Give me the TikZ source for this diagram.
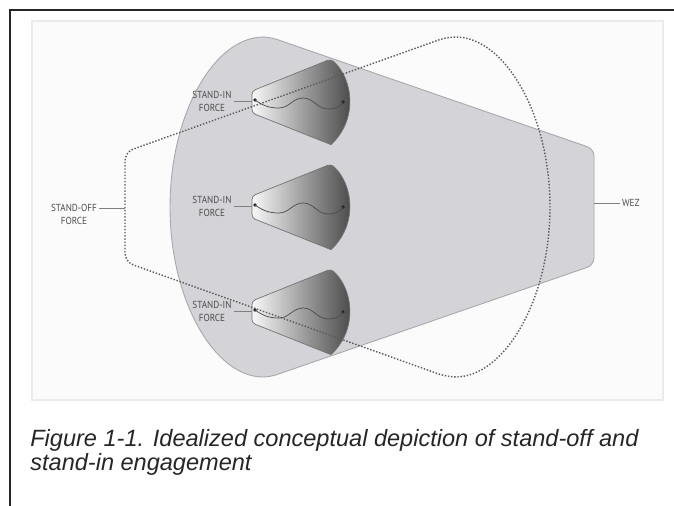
\documentclass[tikz,border=0pt]{standalone}
\usepackage{fontspec}
\setmainfont{Liberation Sans}
\newfontfamily\tagfont[FakeStretch=0.9]{PT Sans}
\definecolor{wezfill}{RGB}{212,212,216}
\definecolor{wezline}{RGB}{168,168,172}
\tikzset{
  frame/.style={draw=black!85,line width=1.3pt},
  panel/.style={draw=black!8,fill=black!1.5,line width=0.6pt},
  wez/.style={fill=wezfill,draw=wezline,line width=0.5pt},
  fan/.style={left color=black!3,right color=black!72,draw=black!55,line width=0.4pt},
  wave/.style={draw=black!70,line width=0.4pt},
  dot/.style={circle,fill=black!85,inner sep=0pt,minimum size=2.2pt},
  standoff/.style={draw=black!65,densely dotted,line width=0.8pt},
  tag/.style={font=\tagfont\fontsize{5.8}{7.4}\selectfont,text=black!70,inner sep=1pt},
  leader/.style={draw=black!50,line width=0.4pt},
  caption/.style={anchor=north west,inner sep=0pt,align=left,
    font=\fontsize{13.4}{13.6}\selectfont\itshape,text=black!85}
}
\begin{document}
\begin{tikzpicture}[x=0.02cm,y=-0.02cm]
  \useasboundingbox (0,0) rectangle (674,506);
  \draw[frame] (674,10) -- (10,10) -- (10,506);
  \draw[panel] (32,21) rectangle (663,400);
  % weapon engagement zone
  \draw[wez,rounded corners=4pt] (594,207) -- (594,265) -- (270,377)
    arc[start angle=270,end angle=90,x radius=2cm,y radius=3.4cm]
    -- (594,149) -- cycle;
  \coordinate (wezedge) at (594,203);
  % stand-in forces
  \path[fan] (331,59) arc[start angle=47.6,end angle=-47.6,radius=1.16cm]
    [rounded corners=2pt] -- (252,113) -- (252,91) -- cycle;
  \node[dot] (l1) at (255,100) {};
  \node[dot] (r1) at (343,102) {};
  \draw[wave] (l1.center) to[out=-35,in=180] (279,108) to[out=0,in=180] (303,98)
    to[out=0,in=180] (328,109) to[out=0,in=-120] (r1.center);
  \coordinate (tip1) at (252,102);
  \path[fan] (331,164) arc[start angle=47.6,end angle=-47.6,radius=1.16cm]
    [rounded corners=2pt] -- (252,218) -- (252,196) -- cycle;
  \node[dot] (l2) at (255,205) {};
  \node[dot] (r2) at (343,207) {};
  \draw[wave] (l2.center) to[out=-35,in=180] (279,213) to[out=0,in=180] (303,203)
    to[out=0,in=180] (328,214) to[out=0,in=-120] (r2.center);
  \coordinate (tip2) at (252,207);
  \path[fan] (331,269) arc[start angle=47.6,end angle=-47.6,radius=1.16cm]
    [rounded corners=2pt] -- (252,323) -- (252,301) -- cycle;
  \node[dot] (l3) at (255,310) {};
  \node[dot] (r3) at (343,312) {};
  \draw[wave] (l3.center) to[out=-35,in=180] (279,318) to[out=0,in=180] (303,308)
    to[out=0,in=180] (328,319) to[out=0,in=-120] (r3.center);
  \coordinate (tip3) at (252,312);
  % stand-off force
  \draw[standoff,rounded corners=5pt] (125,207) -- (125,152) -- (447,37)
    arc[start angle=90,end angle=-90,x radius=2.06cm,y radius=3.4cm]
    -- (125,262) -- cycle;
  \coordinate (offedge) at (125,208);
  % labels
  \node[tag,align=center] (in1) at (212,101) {STAND-IN\\FORCE};
  \node[tag,align=center] (in2) at (212,206) {STAND-IN\\FORCE};
  \node[tag,align=center] (in3) at (212,311) {STAND-IN\\FORCE};
  \node[tag,align=center] (off) at (74,214) {STAND-OFF\\FORCE};
  \node[tag,anchor=west] (wez) at (620,203) {WEZ};
  \draw[leader] (in1.east) -- (in1.east -| tip1);
  \draw[leader] (in2.east) -- (in2.east -| tip2);
  \draw[leader] (in3.east) -- (in3.east -| tip3);
  \draw[leader] (off.east |- offedge) -- (offedge);
  \draw[leader] (wezedge) -- (wez);
  \node[caption] (cap) at (30,429)
    {Figure 1-1. Idealized conceptual depiction of stand-off and\\stand-in engagement};
\end{tikzpicture}
\end{document}
